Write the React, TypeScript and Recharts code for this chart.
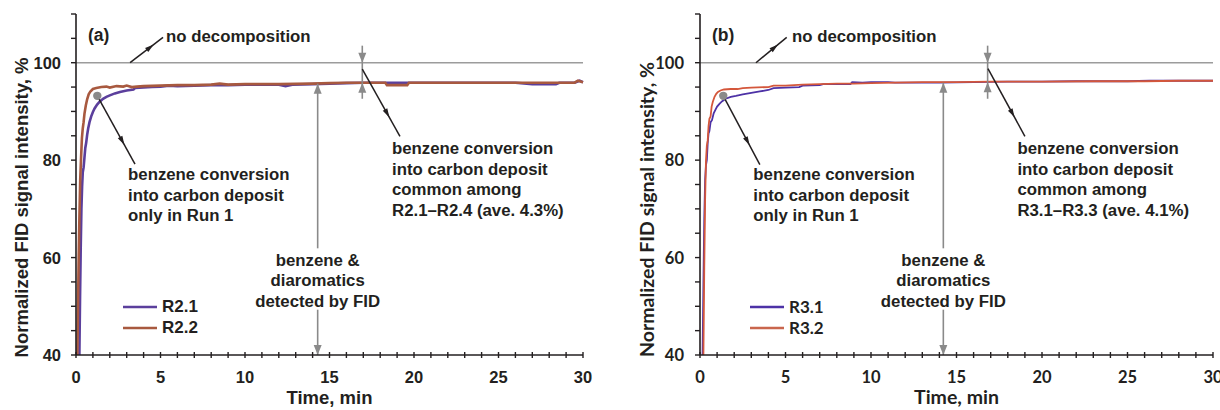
import React from "react";
import { LineChart, Line, XAxis, YAxis, ReferenceLine, ReferenceDot, Legend } from "recharts";

// ---------------- data ----------------
const timeR21 = [0.2, 0.24, 0.28, 0.32, 0.36, 0.4, 0.45, 0.5, 0.55, 0.6, 0.66, 0.72, 0.8, 0.9, 1.0, 1.1, 1.25, 1.4, 1.6, 1.8, 2.0, 2.3, 2.6, 3.0, 3.4, 3.5, 4.0, 4.5, 5.0, 5.5, 6.0, 7.0, 8.0, 9.0, 10.0, 11.0, 12.0, 12.4, 12.8, 14.0, 15.0, 16.0, 17.0, 18.0, 19.0, 20.0, 22.0, 24.0, 26.0, 27.0, 28.4, 28.6, 29.5, 29.8, 30.0];
const valueR21 = [40, 52, 62, 70, 74.5, 77.5, 78.5, 80.5, 82.5, 83.5, 85.2, 86.5, 87.8, 89.0, 89.9, 90.6, 91.4, 92.0, 92.6, 93.0, 93.3, 93.7, 94.0, 94.3, 94.5, 94.8, 94.9, 95.0, 95.1, 95.3, 95.2, 95.3, 95.4, 95.4, 95.5, 95.5, 95.5, 95.2, 95.5, 95.6, 95.7, 95.8, 95.9, 95.9, 95.9, 95.9, 95.9, 95.9, 95.9, 95.6, 95.6, 95.9, 95.9, 96.3, 96.0];

const timeR22 = [0.08, 0.12, 0.16, 0.2, 0.25, 0.3, 0.35, 0.4, 0.45, 0.5, 0.58, 0.66, 0.75, 0.85, 1.0, 1.2, 1.5, 1.8, 2.0, 2.4, 2.8, 3.0, 3.3, 3.6, 4.0, 5.0, 6.0, 7.0, 8.0, 8.5, 9.0, 10.0, 12.0, 14.0, 15.0, 16.0, 17.5, 18.3, 18.4, 19.6, 19.7, 22.0, 25.0, 28.0, 29.5, 29.7, 30.0];
const valueR22 = [40, 50, 60, 68, 76, 80.5, 84.5, 86.5, 87.8, 89.5, 91.2, 92.5, 93.5, 94.1, 94.6, 94.8, 95.0, 95.1, 94.9, 95.2, 95.1, 95.3, 95.0, 95.1, 95.2, 95.3, 95.4, 95.4, 95.5, 95.7, 95.5, 95.6, 95.6, 95.7, 95.8, 95.9, 95.9, 95.9, 95.4, 95.4, 95.9, 95.9, 95.9, 95.9, 95.9, 96.3, 96.0];

const timeR31 = [0.15, 0.2, 0.25, 0.3, 0.35, 0.4, 0.45, 0.5, 0.55, 0.62, 0.7, 0.8, 0.9, 1.0, 1.15, 1.3, 1.5, 1.8, 2.1, 2.5, 3.0, 3.5, 4.0, 4.3, 5.0, 5.8, 6.0, 7.0, 7.2, 8.0, 8.8, 8.9, 9.5, 10.0, 11.0, 11.4, 14.0, 16.0, 18.0, 20.0, 22.0, 24.0, 25.0, 26.3, 28.0, 30.0];
const valueR31 = [40, 55, 68, 76, 79, 80, 83.5, 85.5, 86.0, 87.8, 88.2, 89.6, 90.3, 91.0, 91.6, 92.1, 92.6, 93.0, 93.2, 93.5, 93.8, 94.1, 94.4, 94.8, 94.9, 95.0, 95.3, 95.4, 95.6, 95.6, 95.6, 96.0, 95.9, 96.0, 96.0, 95.9, 95.9, 96.0, 96.1, 96.1, 96.2, 96.2, 96.2, 96.3, 96.3, 96.3];

const timeR32 = [0.2, 0.25, 0.3, 0.35, 0.4, 0.45, 0.5, 0.55, 0.62, 0.68, 0.75, 0.85, 0.95, 1.05, 1.2, 1.4, 1.8, 2.2, 2.5, 3.0, 4.0, 4.3, 5.0, 6.0, 7.0, 8.0, 9.0, 10.0, 11.5, 13.0, 15.0, 17.0, 20.0, 23.0, 26.0, 28.0, 30.0];
const valueR32 = [40, 58, 72, 80, 83, 84, 87, 88.5, 89, 91, 92, 93, 93.6, 94.0, 94.3, 94.5, 94.6, 94.6, 94.8, 94.9, 95.0, 95.3, 95.3, 95.5, 95.6, 95.7, 95.7, 95.8, 95.9, 96.0, 96.0, 96.1, 96.1, 96.2, 96.2, 96.3, 96.3];

const seriesNamesA = ["R2.1", "R2.2"];
const seriesNamesB = ["R3.1", "R3.2"];

const xTicks = [0, 1, 2, 3, 4, 5, 6, 7, 8, 9, 10, 11, 12, 13, 14, 15, 16, 17, 18, 19, 20, 21, 22, 23, 24, 25, 26, 27, 28, 29, 30];
const xTickLabels = [0, 5, 10, 15, 20, 25, 30];
const yTicks = [40, 45, 50, 55, 60, 65, 70, 75, 80, 85, 90, 95, 100, 105, 110];
const yTickLabels = [40, 60, 80, 100];

const xTitle = "Time, min";
const yTitle = "Normalized FID signal intensity, %";
const noDecompText = "no decomposition";
const run1Lines = ["benzene conversion", "into carbon deposit", "only in Run 1"];
const fidLines = ["benzene &", "diaromatics", "detected by FID"];
const commonLinesA = ["benzene conversion", "into carbon deposit", "common among", "R2.1\u2013R2.4 (ave. 4.3%)"];
const commonLinesB = ["benzene conversion", "into carbon deposit", "common among", "R3.1\u2013R3.3 (ave. 4.1%)"];

// ---------------- helpers ----------------
type Pt = { t: number; v: number };
const zip = (ts: number[], vs: number[]): Pt[] => ts.map((t, i) => ({ t, v: vs[i] }));

const DARK = "#231f20";
const GREY = "#8a8a8a";
const FONT_ARIAL = '"Liberation Sans", Arial, sans-serif';
const FONT_CAL = 'Lato, "Liberation Sans", sans-serif';

function head(x1: number, y1: number, x2: number, y2: number, len: number, hw: number, color: string) {
  const dx = x2 - x1;
  const dy = y2 - y1;
  const L = Math.hypot(dx, dy) || 1;
  const ux = dx / L;
  const uy = dy / L;
  const bx = x2 - ux * len;
  const by = y2 - uy * len;
  return (
    <polygon
      points={`${x2},${y2} ${bx - uy * hw},${by + ux * hw} ${bx + uy * hw},${by - ux * hw}`}
      fill={color}
    />
  );
}

const greyArrow = (withHead: boolean) => (p: any) => (
  <g>
    <line x1={p.x1} y1={p.y1} x2={p.x2} y2={p.y2} stroke={GREY} strokeWidth={1.6} />
    {withHead ? head(p.x1, p.y1, p.x2, p.y2, 10, 4, GREY) : null}
  </g>
);

const leaderShape = (p: any) => {
  const f = 0.72;
  const mx = p.x1 + (p.x2 - p.x1) * f;
  const my = p.y1 + (p.y2 - p.y1) * f;
  return (
    <g>
      <line x1={p.x1} y1={p.y1} x2={p.x2} y2={p.y2} stroke={DARK} strokeWidth={1.5} />
      {head(p.x1, p.y1, mx, my, 9, 2.6, DARK)}
    </g>
  );
};

const textShape =
  (lines: string[], anchor: "start" | "middle", size: number, font: string, lh = 20.5) =>
  (p: any) => (
    <text
      x={p.cx}
      y={p.cy}
      textAnchor={anchor}
      fontFamily={font}
      fontWeight={700}
      fontSize={size}
      fill={DARK}
    >
      {lines.map((l, i) => (
        <tspan key={i} x={p.cx} dy={i === 0 ? 0 : lh}>
          {l}
        </tspan>
      ))}
    </text>
  );

const dotShape = (p: any) => <circle cx={p.cx} cy={p.cy} r={4.2} fill={GREY} />;

interface Ann {
  tagT: number;
  ndFrom: Pt; ndTo: Pt; ndText: Pt;
  dot: Pt; runTo: Pt; runText: Pt;
  fidT: number; fidTop: number; fidGapTop: number; fidGapBottom: number; fidText: number;
  cmT: number; cmTop: number; cmLine: number; cmBottom: number;
  cmFrom: Pt; cmTo: Pt; cmText: Pt; cmLines: string[];
}

interface PanelProps {
  left: number;
  width: number;
  marginRight: number;
  tag: string;
  names: string[];
  colors: string[];
  legendColors: string[];
  data: Pt[][];
  strokeW: number;
  axisFont: string;
  tickSize: number;
  titleSize: number;
  legendFont: string;
  legendLeft: number;
  yTitleX: number;
  yTitleY: number;
  tickGap: number;
  ann: Ann;
}

function Panel(props: PanelProps) {
  const { ann } = props;
  const XTick = (p: any) => {
    const val = p.payload.value;
    const show = xTickLabels.includes(val);
    return (
      <g>
        <line x1={p.x} x2={p.x} y1={p.y - 3} y2={p.y + 3} stroke={DARK} strokeWidth={1.4} />
        {show ? (
          <text x={p.x} y={p.y + 28} textAnchor="middle" fontFamily={props.axisFont} fontWeight={700} fontSize={props.tickSize} fill={DARK}>
            {val}
          </text>
        ) : null}
      </g>
    );
  };
  const YTick = (p: any) => {
    const val = p.payload.value;
    const show = yTickLabels.includes(val);
    return (
      <g>
        <line x1={p.x - 5} x2={p.x} y1={p.y} y2={p.y} stroke={DARK} strokeWidth={1.4} />
        {show ? (
          <text x={p.x - props.tickGap} y={p.y + 6} textAnchor="end" fontFamily={props.axisFont} fontWeight={700} fontSize={props.tickSize} fill={DARK}>
            {val}
          </text>
        ) : null}
      </g>
    );
  };
  const yLabel = (p: any) => {
    const vb = p.viewBox;
    const cx = vb.x + props.yTitleX;
    const cy = props.yTitleY;
    return (
      <text x={cx} y={cy} transform={`rotate(-90, ${cx}, ${cy})`} textAnchor="middle" dy="0.36em" fontFamily={props.axisFont} fontWeight={700} fontSize={props.titleSize} fill={DARK}>
        {yTitle}
      </text>
    );
  };
  const xLabel = (p: any) => {
    const vb = p.viewBox;
    return (
      <text x={vb.x + vb.width / 2} y={404} textAnchor="middle" fontFamily={props.axisFont} fontWeight={700} fontSize={props.titleSize} fill={DARK}>
        {xTitle}
      </text>
    );
  };
  const legendContent = (lp: any) => (
    <div>
      {(lp.payload || []).map((it: any, i: number) => (
        <div key={i} style={{ display: "flex", alignItems: "center", height: 21 }}>
          <svg width={34} height={6} style={{ display: "block" }}>
            <line x1={0} x2={34} y1={3} y2={3} stroke={props.legendColors[i]} strokeWidth={2.6} />
          </svg>
          <span style={{ marginLeft: 5, fontFamily: props.legendFont, fontWeight: 700, fontSize: 17, color: DARK, lineHeight: "21px" }}>
            {it.value}
          </span>
        </div>
      ))}
    </div>
  );

  return (
    <div style={{ position: "absolute", left: props.left, top: 0 }}>
      <LineChart width={props.width} height={410} margin={{ top: 14, right: props.marginRight, bottom: 0, left: 0 }}>
        <XAxis
          dataKey="t"
          type="number"
          domain={[0, 30]}
          ticks={xTicks}
          interval={0}
          tick={XTick}
          tickLine={false}
          tickSize={0}
          tickMargin={0}
          height={55}
          axisLine={{ stroke: DARK, strokeWidth: 1.6 }}
          label={{ content: xLabel }}
        />
        <YAxis
          dataKey="v"
          type="number"
          domain={[40, 110]}
          ticks={yTicks}
          interval={0}
          tick={YTick}
          tickLine={false}
          tickSize={0}
          tickMargin={0}
          width={76}
          axisLine={{ stroke: DARK, strokeWidth: 1.6 }}
          label={{ content: yLabel }}
        />
        <ReferenceLine y={100} stroke="#9c9c9c" strokeWidth={1.5} />
        {props.data.map((d, i) => (
          <Line
            key={props.names[i]}
            data={d}
            dataKey="v"
            name={props.names[i]}
            type="linear"
            stroke={props.colors[i]}
            strokeWidth={props.strokeW}
            dot={false}
            isAnimationActive={false}
          />
        ))}
        {/* panel tag */}
        <ReferenceDot x={ann.tagT} y={104.5} r={0} shape={textShape([props.tag], "start", 17.5, FONT_ARIAL)} />
        {/* no decomposition */}
        <ReferenceLine segment={[{ x: ann.ndFrom.t, y: ann.ndFrom.v }, { x: ann.ndTo.t, y: ann.ndTo.v }]} shape={leaderShape} />
        <ReferenceDot x={ann.ndText.t} y={ann.ndText.v} r={0} shape={textShape([noDecompText], "start", 16.8, FONT_ARIAL)} />
        {/* run 1 */}
        <ReferenceLine segment={[{ x: ann.dot.t, y: ann.dot.v }, { x: ann.runTo.t, y: ann.runTo.v }]} shape={leaderShape} />
        <ReferenceDot x={ann.dot.t} y={ann.dot.v} r={4} shape={dotShape} />
        <ReferenceDot x={ann.runText.t} y={ann.runText.v} r={0} shape={textShape(run1Lines, "start", 16.8, FONT_ARIAL)} />
        {/* FID double arrow */}
        <ReferenceLine segment={[{ x: ann.fidT, y: ann.fidGapTop }, { x: ann.fidT, y: ann.fidTop }]} shape={greyArrow(true)} />
        <ReferenceLine segment={[{ x: ann.fidT, y: ann.fidGapBottom }, { x: ann.fidT, y: 40 }]} shape={greyArrow(true)} />
        <ReferenceDot x={ann.fidT} y={ann.fidText} r={0} shape={textShape(fidLines, "middle", 16.8, FONT_ARIAL)} />
        {/* common conversion markers */}
        <ReferenceLine segment={[{ x: ann.cmT, y: ann.cmTop }, { x: ann.cmT, y: 100 }]} shape={greyArrow(true)} />
        <ReferenceLine segment={[{ x: ann.cmT, y: 100 }, { x: ann.cmT, y: ann.cmLine }]} shape={greyArrow(false)} />
        <ReferenceLine segment={[{ x: ann.cmT, y: ann.cmBottom }, { x: ann.cmT, y: ann.cmLine }]} shape={greyArrow(true)} />
        <ReferenceLine segment={[{ x: ann.cmFrom.t, y: ann.cmFrom.v }, { x: ann.cmTo.t, y: ann.cmTo.v }]} shape={leaderShape} />
        <ReferenceDot x={ann.cmText.t} y={ann.cmText.v} r={0} shape={textShape(ann.cmLines, "start", 16.8, FONT_ARIAL)} />
        <Legend
          layout="vertical"
          align="center"
          verticalAlign="middle"
          content={legendContent}
          wrapperStyle={{ left: props.legendLeft, top: 296, width: "auto", height: "auto" }}
        />
      </LineChart>
    </div>
  );
}

const annA: Ann = {
  tagT: 0.71,
  ndFrom: { t: 3.2, v: 100 }, ndTo: { t: 5.15, v: 105.2 }, ndText: { t: 5.33, v: 104.33 },
  dot: { t: 1.26, v: 93.2 }, runTo: { t: 3.49, v: 79.2 }, runText: { t: 3.08, v: 75.9 },
  fidT: 14.3, fidTop: 95.7, fidGapTop: 61.9, fidGapBottom: 49.3, fidText: 58.35,
  cmT: 16.94, cmTop: 103.5, cmLine: 95.9, cmBottom: 92.6,
  cmFrom: { t: 16.94, v: 98.7 }, cmTo: { t: 19.17, v: 84.9 }, cmText: { t: 18.7, v: 81.24 },
  cmLines: commonLinesA,
};

const annB: Ann = {
  tagT: 0.7,
  ndFrom: { t: 3.27, v: 100 }, ndTo: { t: 5.07, v: 105.2 }, ndText: { t: 5.38, v: 104.33 },
  dot: { t: 1.36, v: 93.2 }, runTo: { t: 3.5, v: 79.1 }, runText: { t: 3.12, v: 75.9 },
  fidT: 14.23, fidTop: 95.9, fidGapTop: 61.9, fidGapBottom: 49.3, fidText: 58.35,
  cmT: 16.82, cmTop: 103.5, cmLine: 96.0, cmBottom: 92.6,
  cmFrom: { t: 16.84, v: 98.8 }, cmTo: { t: 19.0, v: 84.9 }, cmText: { t: 18.56, v: 81.24 },
  cmLines: commonLinesB,
};

export default function App() {
  return (
    <div style={{ position: "absolute", left: 0, top: 0, width: 1220, height: 410, background: "#fff" }}>
      <Panel
        left={0}
        width={610}
        marginRight={27}
        tag="(a)"
        names={seriesNamesA}
        colors={["#5b3f9c", "#a8593f"]}
        legendColors={["#5b3f9c", "#a8593f"]}
        data={[zip(timeR21, valueR21), zip(timeR22, valueR22)]}
        strokeW={2.6}
        axisFont={FONT_ARIAL}
        tickSize={16.5}
        titleSize={18.5}
        legendFont={FONT_ARIAL}
        legendLeft={123}
        yTitleX={21.5}
        yTitleY={207.5}
        tickGap={15}
        ann={annA}
      />
      <Panel
        left={624}
        width={596}
        marginRight={7}
        tag="(b)"
        names={seriesNamesB}
        colors={["#4d32a6", "#d4573b"]}
        legendColors={["#4d32a6", "#c9664d"]}
        data={[zip(timeR31, valueR31), zip(timeR32, valueR32)]}
        strokeW={1.8}
        axisFont={FONT_CAL}
        tickSize={16.5}
        titleSize={19.5}
        legendFont={FONT_CAL}
        legendLeft={126}
        yTitleX={22.5}
        yTitleY={209.5}
        tickGap={16}
        ann={annB}
      />
    </div>
  );
}
